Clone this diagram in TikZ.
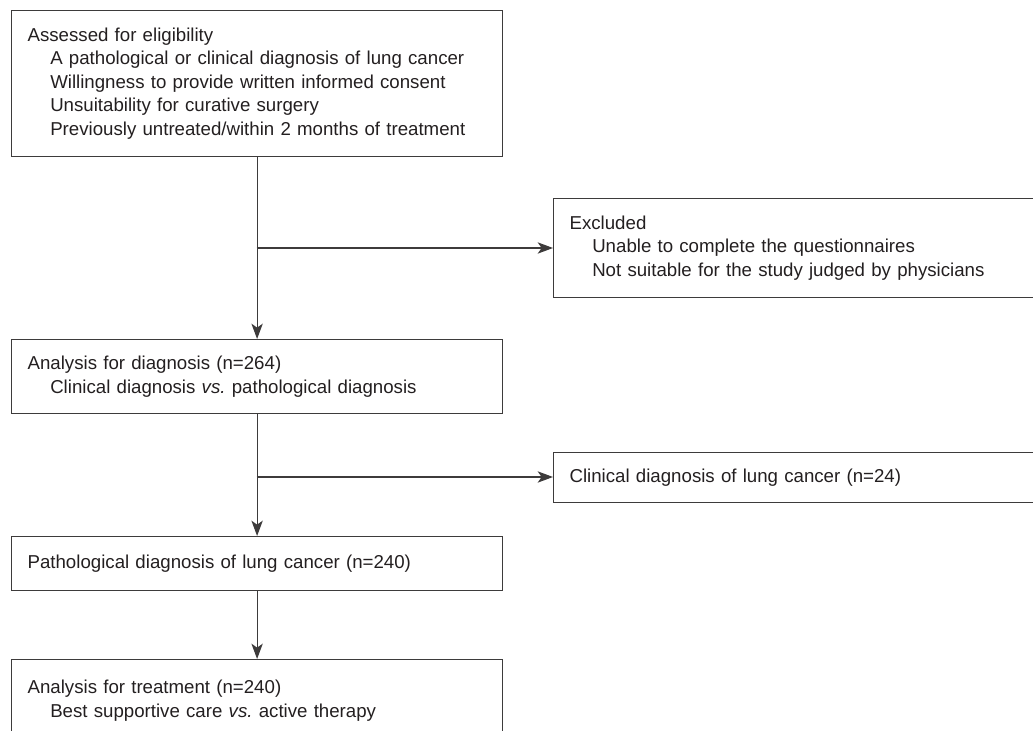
\documentclass[tikz,border=0pt]{standalone}
\usepackage{fontspec}
\setmainfont{Liberation Sans}
\usetikzlibrary{positioning, arrows.meta}
\definecolor{ink}{HTML}{231F20}
\definecolor{rule}{HTML}{3D3B3B}
\newcommand{\ind}{\hspace*{17pt}}

\begin{document}
\begin{tikzpicture} [x=0.75pt, y=-0.75pt,
  box/.style={rectangle, draw=rule, line width=0.9pt, anchor=north west, text width=344.25pt, inner xsep=12pt, inner ysep=0pt, align=left, text=ink, font=\fontsize{14}{17.6}\selectfont},
  side/.style={box, text width=351pt},
  flow/.style={draw=rule, line width=0.9pt, -{Stealth[length=11.5pt, width=8.5pt, inset=3pt]}}]
  \useasboundingbox (0,0) rectangle (1033,731);
  \clip (0,0) rectangle (1033,731);
  \draw (11,10)   node[box, minimum height=109.5pt](elig) {Assessed for eligibility\\ \ind A pathological or clinical diagnosis of lung cancer\\ \ind Willingness to provide written informed consent\\ \ind Unsuitability for curative surgery\\ \ind Previously untreated/within 2 months of treatment};
  \draw (553,198) node[side, minimum height=74.25pt](excl) {Excluded\\ \ind Unable to complete the questionnaires\\ \ind Not suitable for the study judged by physicians};
  \draw (11,339)  node[box, minimum height=55.5pt](diag) {Analysis for diagnosis (n=264)\\ \ind Clinical diagnosis \textit{vs.}\ pathological diagnosis};
  \draw (553,452) node[side, minimum height=37.5pt](clin) {Clinical diagnosis of lung cancer (n=24)};
  \draw (11,536)  node[box, minimum height=40.5pt](path) {Pathological diagnosis of lung cancer (n=240)};
  \draw (11,659)  node[box, minimum height=61.5pt](trt) {Analysis for treatment (n=240)\\ \ind Best supportive care \textit{vs.}\ active therapy};

  \coordinate (j1) at (256.5,248);
  \coordinate (j2) at (256.5,477);

\path (elig) edge[flow] (diag)
      (j1)   edge[flow] (j1 -| excl.west)
      (diag) edge[flow] (path)
      (j2)   edge[flow] (j2 -| clin.west)
      (path) edge[flow] (trt);
\end{tikzpicture}
\end{document}
